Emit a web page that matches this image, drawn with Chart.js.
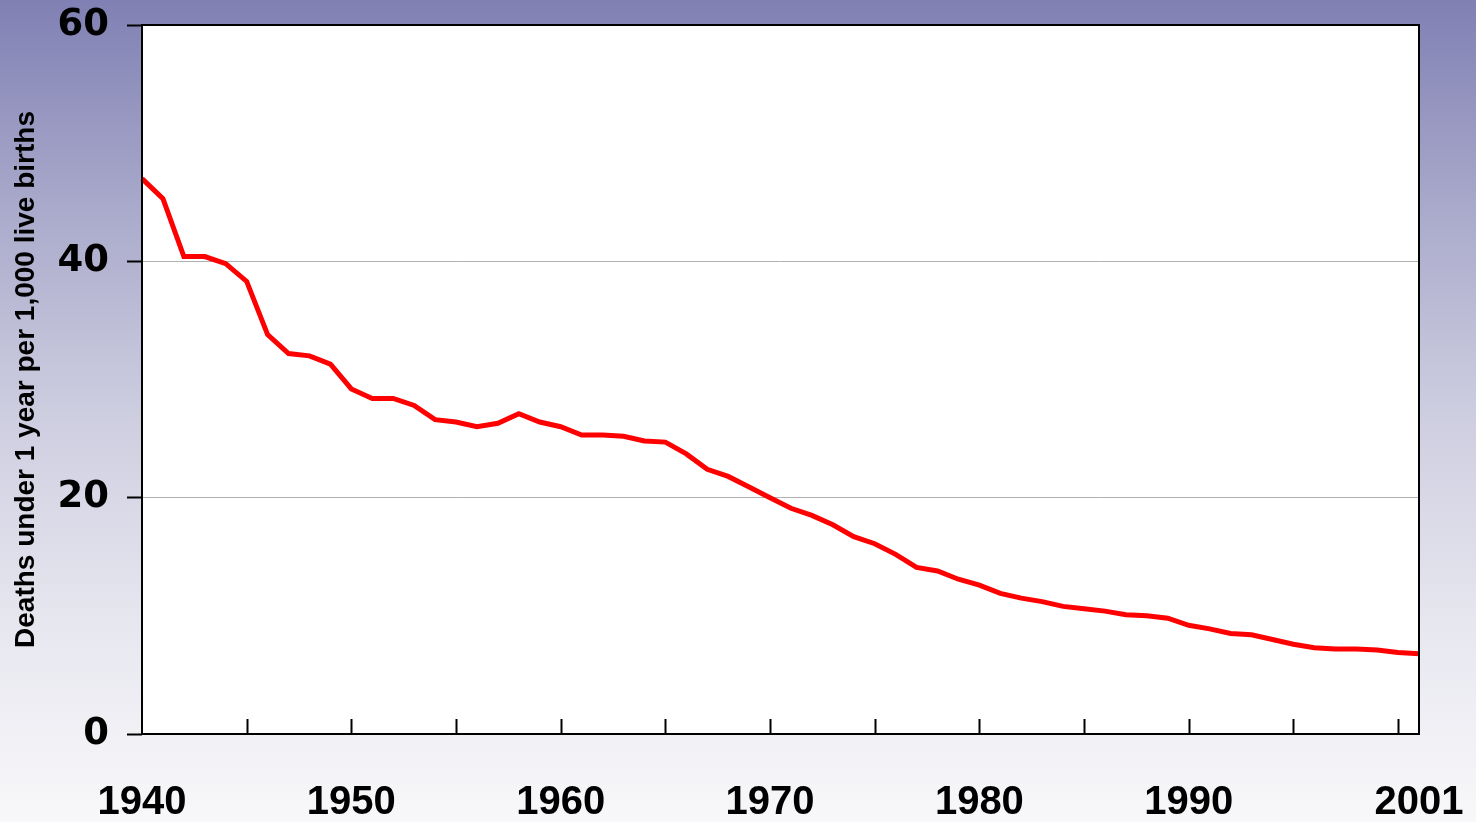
<!DOCTYPE html>
<html>
<head>
<meta charset="utf-8">
<script src="https://cdn.jsdelivr.net/npm/chart.js@4/dist/chart.umd.min.js"></script>
<style>
  html, body { margin: 0; padding: 0; }
  body {
    width: 1476px;
    height: 822px;
    background: linear-gradient(to bottom, #8080b4 0%, #a9a9cb 25%, #cdcde0 50%, #e6e6ef 75%, #f8f8fa 100%);
  }
  #wrap { width: 1476px; height: 822px; }
</style>
</head>
<body>
<div id="wrap"><canvas id="infant-chart"></canvas></div>
<script>
const years = [
  1940, 1941, 1942, 1943, 1944, 1945, 1946, 1947, 1948, 1949,
  1950, 1951, 1952, 1953, 1954, 1955, 1956, 1957, 1958, 1959,
  1960, 1961, 1962, 1963, 1964, 1965, 1966, 1967, 1968, 1969,
  1970, 1971, 1972, 1973, 1974, 1975, 1976, 1977, 1978, 1979,
  1980, 1981, 1982, 1983, 1984, 1985, 1986, 1987, 1988, 1989,
  1990, 1991, 1992, 1993, 1994, 1995, 1996, 1997, 1998, 1999,
  2000, 2001,
];
const deathRates = [
  47.0, 45.3, 40.4, 40.4, 39.8, 38.3, 33.8, 32.2, 32.0, 31.3,
  29.2, 28.4, 28.4, 27.8, 26.6, 26.4, 26.0, 26.3, 27.1, 26.4,
  26.0, 25.3, 25.3, 25.2, 24.8, 24.7, 23.7, 22.4, 21.8, 20.9,
  20.0, 19.1, 18.5, 17.7, 16.7, 16.1, 15.2, 14.1, 13.8, 13.1,
  12.6, 11.9, 11.5, 11.2, 10.8, 10.6, 10.4, 10.1, 10.0, 9.8,
  9.2, 8.9, 8.5, 8.4, 8.0, 7.6, 7.3, 7.2, 7.2, 7.1,
  6.9, 6.8,
];
const xTickValues = [1940, 1945, 1950, 1955, 1960, 1965, 1970, 1975, 1980, 1985, 1990, 1995, 2000, 2001];
const xTickLabels = { 1940: '1940', 1950: '1950', 1960: '1960', 1970: '1970', 1980: '1980', 1990: '1990', 2001: '2001' };
const yTickValues = [0, 20, 40, 60];
const yAxisTitle = 'Deaths under 1 year per 1,000 live births';

// white plot area behind the line
const plotBackground = {
  id: 'plotBackground',
  beforeDraw(chart) {
    const { ctx, chartArea } = chart;
    ctx.save();
    ctx.fillStyle = '#ffffff';
    ctx.fillRect(chartArea.left, chartArea.top, chartArea.right - chartArea.left, chartArea.bottom - chartArea.top);
    ctx.restore();
  },
};

// black frame + inside x tick marks, excel style
const plotFrame = {
  id: 'plotFrame',
  afterDatasetsDraw(chart) {
    const { ctx, chartArea, scales } = chart;
    ctx.save();
    ctx.strokeStyle = '#000000';
    ctx.lineWidth = 2;
    ctx.strokeRect(chartArea.left, chartArea.top, chartArea.right - chartArea.left, chartArea.bottom - chartArea.top);
    ctx.beginPath();
    xTickValues.forEach((value) => {
      if (value === 1940 || value === 2001) return;
      const x = Math.round(scales.x.getPixelForValue(value)) + 0.5;
      ctx.moveTo(x, chartArea.bottom);
      ctx.lineTo(x, chartArea.bottom - 15);
    });
    ctx.stroke();
    ctx.restore();
  },
};

new Chart(document.getElementById('infant-chart'), {
  type: 'line',
  data: {
    datasets: [
      {
        label: 'Infant mortality',
        data: years.map((year, i) => ({ x: year, y: deathRates[i] })),
        borderColor: '#ff0000',
        borderWidth: 5,
        pointRadius: 0,
        tension: 0,
        fill: false,
        clip: false,
      },
    ],
  },
  options: {
    responsive: true,
    maintainAspectRatio: false,
    animation: false,
    layout: { padding: { top: 25, right: 57, left: 0, bottom: 0 } },
    plugins: {
      legend: { display: false },
      tooltip: { enabled: false },
    },
    scales: {
      x: {
        type: 'linear',
        min: 1940,
        max: 2001,
        afterBuildTicks: (scale) => {
          scale.ticks = xTickValues.map((value) => ({ value }));
        },
        afterFit: (scale) => {
          scale.height = 88;
          scale.paddingLeft = 0;
          scale.paddingRight = 0;
        },
        grid: { display: false, drawTicks: false },
        border: { display: false },
        ticks: {
          autoSkip: false,
          maxRotation: 0,
          padding: 45,
          color: '#000000',
          font: { family: '"Liberation Sans", Arial, sans-serif', size: 40, weight: 'bold' },
          callback: (value) => xTickLabels[value] || '',
        },
      },
      y: {
        min: 0,
        max: 60,
        afterBuildTicks: (scale) => {
          scale.ticks = yTickValues.map((value) => ({ value }));
        },
        afterFit: (scale) => {
          scale.width = 142;
          scale.paddingTop = 0;
          scale.paddingBottom = 0;
        },
        grid: {
          color: '#b0b0b0',
          lineWidth: 1,
          drawTicks: true,
          tickLength: 15,
          tickColor: '#000000',
          tickWidth: 2,
        },
        border: { display: false },
        title: {
          display: true,
          text: yAxisTitle,
          color: '#000000',
          padding: { top: 9, bottom: 0 },
          font: { family: '"Liberation Sans", Arial, sans-serif', size: 28, weight: 'bold' },
        },
        ticks: {
          padding: 18,
          color: '#000000',
          font: { family: '"DejaVu Sans", sans-serif', size: 37, weight: 'bold' },
        },
      },
    },
  },
  plugins: [plotBackground, plotFrame],
});
</script>
</body>
</html>
